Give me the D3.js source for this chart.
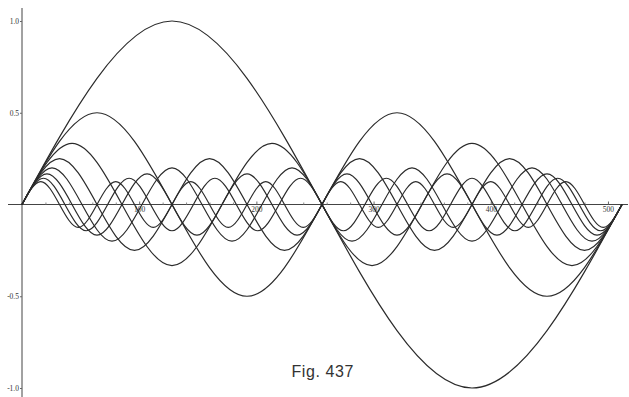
<!DOCTYPE html>
<html>
<head>
<meta charset="utf-8">
<script src="https://cdn.jsdelivr.net/npm/d3@7"></script>
<style>
  html, body { margin: 0; padding: 0; background: #fff; }
  svg { display: block; }
</style>
</head>
<body>
<svg id="chart" width="629" height="397"></svg>
<script>
// ---- data (key points: zeros and extremes of each curve) ----
const curve1X = [0, 128, 256, 384, 512];
const curve1Y = [0, 1, 0, -1, 0];

const curve2X = [0, 64, 128, 192, 256, 320, 384, 448, 512];
const curve2Y = [0, 0.5, 0, -0.5, 0, 0.5, 0, -0.5, 0];

const curve3X = [0, 42.7, 85.3, 128, 170.7, 213.3, 256, 298.7, 341.3, 384, 426.7, 469.3, 512];
const curve3Y = [0, 0.333, 0, -0.333, 0, 0.333, 0, -0.333, 0, 0.333, 0, -0.333, 0];

const curve4X = [0, 32, 64, 96, 128, 160, 192, 224, 256, 288, 320, 352, 384, 416, 448, 480, 512];
const curve4Y = [0, 0.25, 0, -0.25, 0, 0.25, 0, -0.25, 0, 0.25, 0, -0.25, 0, 0.25, 0, -0.25, 0];

const curve5X = [0, 25.6, 51.2, 76.8, 102.4, 128, 153.6, 179.2, 204.8, 230.4, 256, 281.6, 307.2, 332.8, 358.4, 384, 409.6, 435.2, 460.8, 486.4, 512];
const curve5Y = [0, 0.2, 0, -0.2, 0, 0.2, 0, -0.2, 0, 0.2, 0, -0.2, 0, 0.2, 0, -0.2, 0, 0.2, 0, -0.2, 0];

const curve6X = [0, 21.3, 42.7, 64, 85.3, 106.7, 128, 149.3, 170.7, 192, 213.3, 234.7, 256, 277.3, 298.7, 320, 341.3, 362.7, 384, 405.3, 426.7, 448, 469.3, 490.7, 512];
const curve6Y = [0, 0.167, 0, -0.167, 0, 0.167, 0, -0.167, 0, 0.167, 0, -0.167, 0, 0.167, 0, -0.167, 0, 0.167, 0, -0.167, 0, 0.167, 0, -0.167, 0];

const curve7X = [0, 18.3, 36.6, 54.9, 73.1, 91.4, 109.7, 128, 146.3, 164.6, 182.9, 201.1, 219.4, 237.7, 256, 274.3, 292.6, 310.9, 329.1, 347.4, 365.7, 384, 402.3, 420.6, 438.9, 457.1, 475.4, 493.7, 512];
const curve7Y = [0, 0.143, 0, -0.143, 0, 0.143, 0, -0.143, 0, 0.143, 0, -0.143, 0, 0.143, 0, -0.143, 0, 0.143, 0, -0.143, 0, 0.143, 0, -0.143, 0, 0.143, 0, -0.143, 0];

const curve8X = [0, 16, 32, 48, 64, 80, 96, 112, 128, 144, 160, 176, 192, 208, 224, 240, 256, 272, 288, 304, 320, 336, 352, 368, 384, 400, 416, 432, 448, 464, 480, 496, 512];
const curve8Y = [0, 0.125, 0, -0.125, 0, 0.125, 0, -0.125, 0, 0.125, 0, -0.125, 0, 0.125, 0, -0.125, 0, 0.125, 0, -0.125, 0, 0.125, 0, -0.125, 0, 0.125, 0, -0.125, 0, 0.125, 0, -0.125, 0];

const xMajorTicks = [100, 200, 300, 400, 500];
const xMinorTicks = [20, 40, 60, 80, 120, 140, 160, 180, 220, 240, 260, 280, 320, 340, 360, 380, 420, 440, 460, 480];
const yTicks = [1.0, 0.5, -0.5, -1.0];
const yTickLabels = ["1.0", "0.5", "-0.5", "-1.0"];
const captionText = "Fig. 437";

// ---- drawing ----
const svg = d3.select("#chart");
const ink = "#2b2b2b";

const x = d3.scaleLinear().domain([0, 512]).range([22, 622]);
const y = d3.scaleLinear().domain([-1, 1]).range([388, 21]);

// axis lines
svg.append("line")
  .attr("x1", 8).attr("x2", 628)
  .attr("y1", y(0)).attr("y2", y(0))
  .attr("stroke", "#444").attr("stroke-width", 1);
svg.append("line")
  .attr("x1", x(0)).attr("x2", x(0))
  .attr("y1", 8).attr("y2", 397)
  .attr("stroke", "#444").attr("stroke-width", 1);

// x axis ticks
const xAxisMinor = d3.axisBottom(x).tickValues(xMinorTicks).tickSize(-2).tickFormat("");
const gxm = svg.append("g").attr("transform", `translate(0,${y(0)})`).call(xAxisMinor);
gxm.select(".domain").remove();
gxm.selectAll("line").attr("stroke", "#888");

const xAxisMajor = d3.axisBottom(x).tickValues(xMajorTicks).tickSize(-3).tickPadding(1).tickFormat(d3.format("d"));
const gx = svg.append("g").attr("transform", `translate(0,${y(0)})`).call(xAxisMajor);
gx.select(".domain").remove();
gx.selectAll("line").attr("stroke", "#666");
gx.selectAll("text")
  .attr("font-family", "Liberation Serif, serif")
  .attr("font-size", 7.5)
  .attr("fill", "#333")
  .attr("dy", "0.9em");

// y axis ticks
const yAxis = d3.axisLeft(y).tickValues(yTicks).tickSize(2).tickPadding(1)
  .tickFormat((d, i) => yTickLabels[i]);
const gy = svg.append("g").attr("transform", `translate(${x(0)},0)`).call(yAxis);
gy.select(".domain").remove();
gy.selectAll("line").attr("stroke", "#666");
gy.selectAll("text")
  .attr("font-family", "Liberation Serif, serif")
  .attr("font-size", 7.5)
  .attr("fill", "#333");

// curves
const curves = [
  [curve1X, curve1Y], [curve2X, curve2Y], [curve3X, curve3Y], [curve4X, curve4Y],
  [curve5X, curve5Y], [curve6X, curve6Y], [curve7X, curve7Y], [curve8X, curve8Y]
];
const line = d3.line()
  .x(d => x(d[0]))
  .y(d => y(d[1]))
  .curve(d3.curveNatural);

svg.append("g").selectAll("path")
  .data(curves.map(([xs, ys]) => xs.map((v, i) => [v, ys[i]])))
  .join("path")
  .attr("d", line)
  .attr("fill", "none")
  .attr("stroke", ink)
  .attr("stroke-width", 1.2);

// caption
svg.append("text")
  .attr("x", 354).attr("y", 377)
  .attr("text-anchor", "end")
  .attr("font-family", "Liberation Sans, Arial, sans-serif")
  .attr("font-size", 16)
  .attr("letter-spacing", 0.6)
  .attr("fill", "#333")
  .text(captionText);
</script>
</body>
</html>
